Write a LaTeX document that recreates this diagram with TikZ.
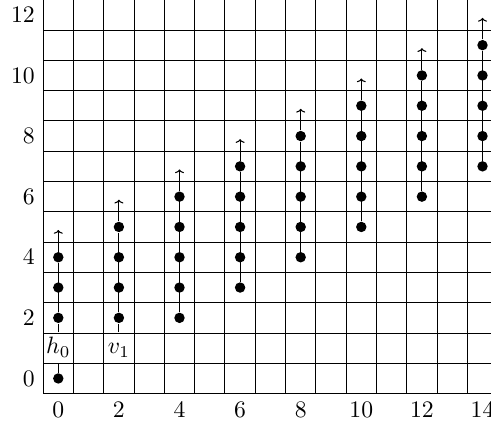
\documentclass[tikz,border=0pt]{standalone}
\usetikzlibrary{arrows.meta}
\begin{document}
\begin{tikzpicture}[x=0.45cm,y=0.45cm,
  gridline/.style={draw=black,line width=0.4pt},
  dot/.style={circle,fill=black,inner sep=0pt,minimum size=4.4pt},
  conn/.style={draw=black,line width=0.45pt},
  tipped/.style={conn,-{To[width=3.8pt,length=1.6pt]}},
  lbl/.style={inner xsep=1pt,inner ysep=1.8pt,text height=7pt,text depth=2.5pt},
  axl/.style={inner sep=3.33pt}]
\useasboundingbox (-1.924,-1.574) rectangle (14.28,12.49);
\foreach \i in {0,...,15} \draw[gridline] (\i-0.5,-0.5) -- (\i-0.5,12.5);
\foreach \j in {0,...,13} \draw[gridline] (-0.5,\j-0.5) -- (14.5,\j-0.5);
\foreach \x in {0,2,...,14} \node[axl,anchor=north] (xl\x) at (\x,-0.5) {$\x$};
\foreach \y in {0,2,...,12} \node[axl,anchor=east] (yl\y) at (-0.5,\y) {$\y$};
\foreach \x/\a/\b in {0/2/4,2/2/5,4/2/6,6/3/7,8/4/8,10/5/9,12/6/10,14/7/11} {
  \foreach \y in {\a,...,\b} \node[dot] (d\x-\y) at (\x,\y) {};
  \coordinate (t\x) at (\x,\b+0.9);
  \draw[conn] (d\x-\a) -- (d\x-\b);
  \draw[tipped] (d\x-\b) -- (t\x);
}
\node[dot] (d0-0) at (0,0) {};
\node[lbl] (h0) at (0,1) {$h_0$};
\node[lbl] (v1) at (2,1) {$v_1$};
\draw[conn] (d0-0) -- (h0);
\draw[conn] (h0) -- (d0-2);
\draw[conn] (v1) -- (d2-2);
\end{tikzpicture}
\end{document}
